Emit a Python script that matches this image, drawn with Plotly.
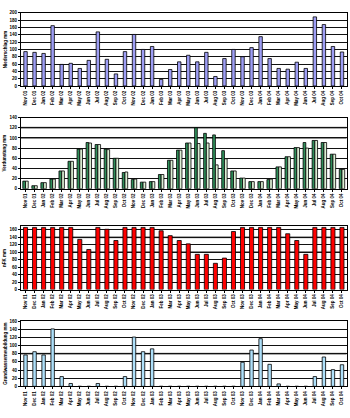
import plotly.graph_objects as go

# Monthly categories, Nov 2001 - Oct 2004
months = ["Nov 01", "Dec 01", "Jan 02", "Feb 02", "Mar 02", "Apr 02", "May 02", "Jun 02",
          "Jul 02", "Aug 02", "Sep 02", "Oct 02", "Nov 02", "Dec 02", "Jan 03", "Feb 03",
          "Mar 03", "Apr 03", "May 03", "Jun 03", "Jul 03", "Aug 03", "Sep 03", "Oct 03",
          "Nov 03", "Dec 03", "Jan 04", "Feb 04", "Mar 04", "Apr 04", "May 04", "Jun 04",
          "Jul 04", "Aug 04", "Sep 04", "Oct 04"]

niederschlag = [94, 92, 89, 165, 59, 62, 48, 70, 148, 73, 33, 94, 141, 100, 108, 18,
                45, 66, 84, 66, 92, 26, 75, 100, 80, 105, 135, 75, 48, 46, 65, 48,
                189, 168, 108, 93]

verdunstung_pot = [15, 6, 12, 19, 35, 54, 78, 91, 87, 78, 60, 32, 18, 13, 14, 28,
                   56, 76, 90, 120, 109, 106, 75, 35, 21, 14, 14, 18, 43, 63, 81, 91,
                   95, 91, 68, 38]
verdunstung_akt = [15, 6, 12, 19, 35, 54, 78, 90, 87, 77, 60, 33, 19, 13, 14, 28,
                   56, 76, 90, 89, 90, 47, 59, 35, 21, 14, 14, 19, 43, 63, 81, 80,
                   95, 91, 68, 38]

nfk = [166, 166, 166, 166, 166, 166, 134, 107, 166, 161, 131, 166, 166, 166, 166, 157,
       144, 131, 122, 94, 94, 70, 84, 155, 166, 166, 166, 166, 166, 149, 131, 94,
       166, 166, 166, 166]

gwn = [77, 85, 77, 141, 24, 7, 0, 0, 7, 0, 0, 24, 121, 85, 92, 0,
       0, 0, 0, 0, 0, 0, 0, 0, 59, 89, 117, 54, 6, 0, 0, 0,
       24, 72, 41, 53]

FONT = "Liberation Sans"
outline = dict(color="black", width=0.8)

fig = go.Figure()
fig.add_trace(go.Bar(x=months, y=niederschlag, width=0.38, marker=dict(color="#9e9ef5", line=outline),
                     xaxis="x", yaxis="y"))
fig.add_trace(go.Bar(x=months, y=verdunstung_pot, width=0.3, offset=-0.3,
                     marker=dict(color="#2f8f5a", line=outline), xaxis="x2", yaxis="y2"))
fig.add_trace(go.Bar(x=months, y=verdunstung_akt, width=0.3, offset=0.0,
                     marker=dict(color="#dcefd4", line=outline), xaxis="x2", yaxis="y2"))
fig.add_trace(go.Bar(x=months, y=nfk, width=0.45, marker=dict(color="#ff0000", line=outline),
                     xaxis="x3", yaxis="y3"))
fig.add_trace(go.Bar(x=months, y=gwn, width=0.38, marker=dict(color="#aee0fa", line=outline),
                     xaxis="x4", yaxis="y4"))

H = 418.0
def dom(top_px, bottom_px):
    return [1 - bottom_px / H, 1 - top_px / H]

panels = [
    ("", dom(11, 85), [0, 200], "Niederschlag mm"),
    ("2", dom(117, 189), [0, 140], "Verdunstung mm"),
    ("3", dom(227, 291), [0, 169], "nFK mm"),
    ("4", dom(323, 389), [0, 160], "Grundwasserneubildung mm"),
]

small = dict(size=4.5, family=FONT, weight="bold")

layout = dict(
    width=350, height=418, margin=dict(l=0, r=0, t=0, b=0),
    paper_bgcolor="white", plot_bgcolor="white", showlegend=False,
    font=dict(family=FONT, size=5, color="black"),
)
for suffix, d, rng, title in panels:
    layout["xaxis" + suffix] = dict(
        domain=[0.06, 0.99], anchor="y" + suffix, type="category",
        tickangle=-90, tickfont=small,
        showline=True, linecolor="black", linewidth=1, mirror=True,
        ticks="outside", ticklen=2, tickcolor="black", showgrid=False,
    )
    layout["yaxis" + suffix] = dict(
        domain=d, anchor="x" + suffix, range=rng, dtick=20,
        showline=True, linecolor="black", linewidth=1, mirror=True,
        ticks="outside", ticklen=2, tickcolor="black",
        showgrid=True, gridcolor="#111111", gridwidth=1,
        tickfont=small,
        title=dict(text=title, font=small, standoff=2),
    )

fig.update_layout(**layout)

# emphasised gray grid lines
for yref, xref, val in [("y2", "x2", 100), ("y2", "x2", 120), ("y3", "x3", 140), ("y3", "x3", 100),
                        ("y4", "x4", 80)]:
    fig.add_shape(type="line", xref=xref + " domain", yref=yref, x0=0, x1=1, y0=val, y1=val,
                  line=dict(color="#8c8c8c", width=2), layer="below")

fig.write_html("out.html")
